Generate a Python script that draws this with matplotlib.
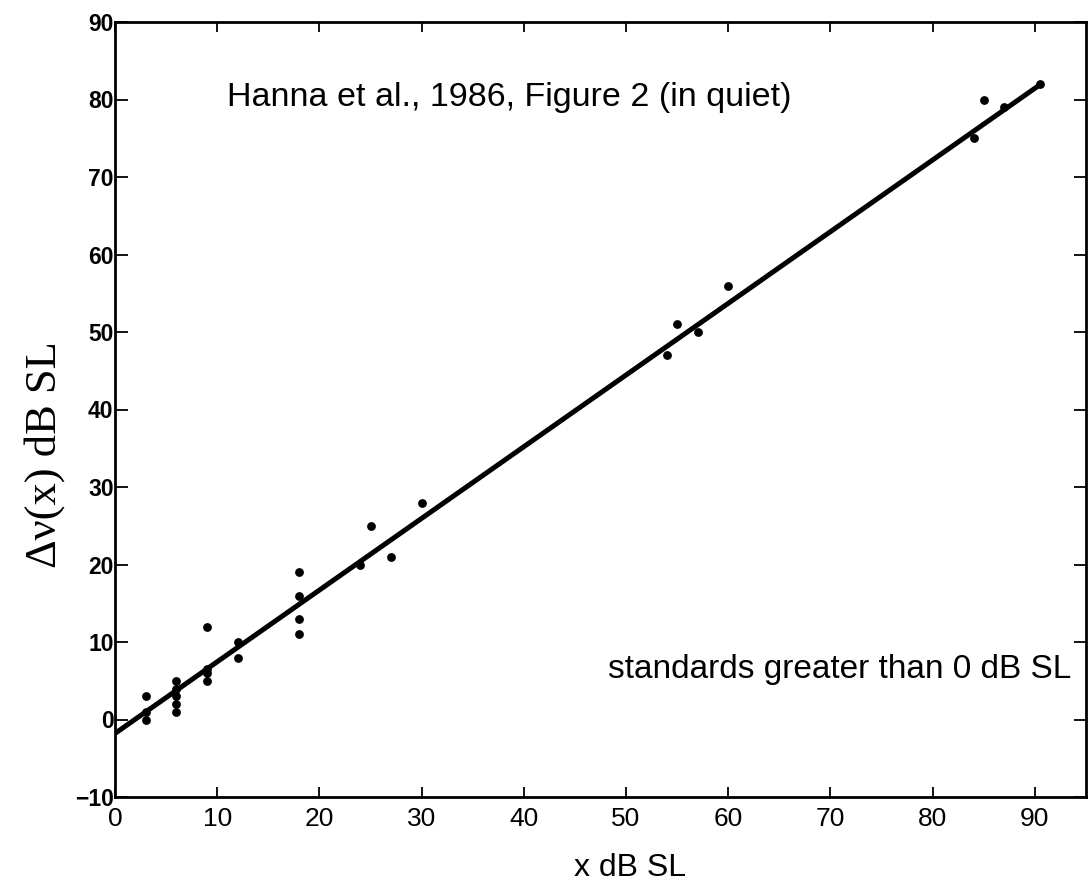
import matplotlib
matplotlib.use("Agg")
import matplotlib.pyplot as plt
import numpy as np

# Measured points: level x (dB SL) vs. delta-nu(x) (dB SL)
x_db = [3, 3, 3, 6, 6, 6, 6, 6, 9, 9, 9, 9, 12, 12, 18, 18, 18, 18,
        24, 25, 27, 30, 54, 55, 57, 60, 84, 85, 87, 90.5]
dnu_db = [3, 1, 0, 5, 4, 3, 2, 1, 12, 6.5, 6, 5, 10, 8, 19, 16, 13, 11,
          20, 25, 21, 28, 47, 51, 50, 56, 75, 80, 79, 82]

# Straight-line fit drawn over the data
fit_slope = 0.925
fit_intercept = -1.8
fit_x = [0, 90.5]

x_ticks = [0, 10, 20, 30, 40, 50, 60, 70, 80, 90]
y_ticks = [-10, 0, 10, 20, 30, 40, 50, 60, 70, 80, 90]

SANS = ["Liberation Sans", "DejaVu Sans"]
NARROW = ["Liberation Sans Narrow", "Liberation Sans", "DejaVu Sans"]

fig = plt.figure(figsize=(10.9, 8.89), dpi=100)
ax = fig.add_axes([115 / 1090, 1 - 797 / 889, (1086 - 115) / 1090, (797 - 22) / 889])

fx = np.array(fit_x)
ax.plot(fx, fit_slope * fx + fit_intercept, color="black", lw=3.6,
        solid_capstyle="round", zorder=2)
ax.scatter(x_db, dnu_db, s=40, color="black", zorder=3, linewidths=0)

ax.set_xlim(0, 95)
ax.set_ylim(-10, 90)
ax.set_xticks(x_ticks)
ax.set_yticks(y_ticks)

for sp in ax.spines.values():
    sp.set_linewidth(2.0)

ax.tick_params(axis="both", which="major", direction="in", width=1.3,
               top=True, right=True, labeltop=False, labelright=False)
ax.tick_params(axis="y", length=9, pad=1)
ax.tick_params(axis="x", length=7, pad=7)

for lab in ax.get_yticklabels():
    lab.set_fontfamily(SANS)
    lab.set_fontweight("bold")
    lab.set_fontsize(16.5)
for lab in ax.get_xticklabels():
    lab.set_fontfamily(NARROW)
    lab.set_fontsize(19)

ax.text(11.0, 80.3, "Hanna et al., 1986, Figure 2 (in quiet)",
        fontsize=24.5, family=SANS, va="center", ha="left")
ax.text(93.6, 6.5, "standards greater than 0 dB SL",
        fontsize=24, family=SANS, va="center", ha="right")

fig.text(630 / 1090, 1 - 868 / 889, "x dB SL", fontsize=23,
         family=SANS, ha="center", va="center")
fig.text(45 / 1090, 1 - 455 / 889, "\u0394\u03bd(x) dB SL", fontsize=32,
         family=["Liberation Serif", "DejaVu Serif"], rotation=90,
         ha="center", va="center")

fig.savefig("out.png", dpi=100, facecolor="white")
